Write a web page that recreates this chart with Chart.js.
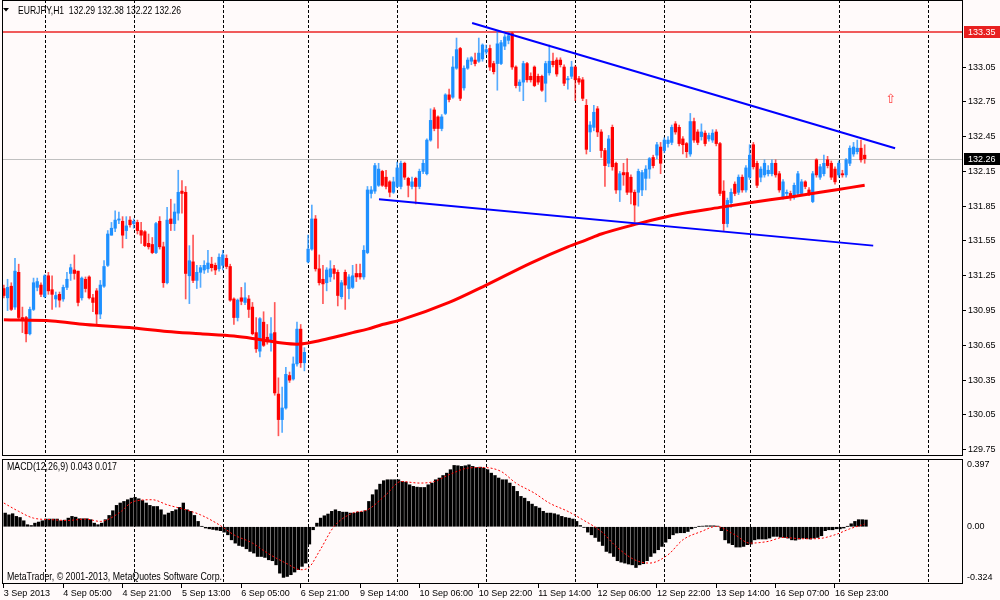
<!DOCTYPE html>
<html lang="en">
<head>
  <meta charset="UTF-8" />
  <title>EURJPY,H1</title>
  <script src="https://cdn.jsdelivr.net/npm/chart.js@4.4.1/dist/chart.umd.min.js"></script>
  <style>
    html, body { margin: 0; padding: 0; background: #fffafa; }
    .wrap { position: relative; width: 1000px; height: 600px; overflow: hidden; background: #fffafa; }
    #priceChart { position: absolute; left: 0; top: 0; }
    #macdChart { position: absolute; left: 0; top: 457px; }
  </style>
</head>
<body>
  <div class="wrap">
    <canvas id="priceChart" width="1000" height="457"></canvas>
    <canvas id="macdChart" width="1000" height="143"></canvas>
  </div>

  <script>
    const symbol = 'EURJPY,H1';
    const totalSlots = 259; // bars visible incl. the empty space on the right

    // hourly candles, 3 Sep 13:00 .. 17 Sep 07:00
    const opens = [
      131.14,131.06,131.16,130.98,131.28,130.89,130.89,130.75,130.96,131.15,
      131.17,131.07,131.25,131.13,131.05,131.09,131.05,131.15,131.27,131.30,
      131.29,131.06,131.22,131.24,131.06,131.12,130.92,131.16,131.34,131.60,
      131.66,131.73,131.72,131.64,131.73,131.70,131.71,131.64,131.63,131.53,
      131.52,131.45,131.72,131.50,131.19,131.74,131.70,131.79,131.98,131.97,
      131.25,131.37,131.21,131.28,131.30,131.31,131.35,131.34,131.31,131.34,
      131.40,131.33,131.05,130.89,131.06,131.02,131.05,130.98,130.76,130.60,
      130.85,130.72,130.68,130.76,130.23,130.01,130.11,130.39,130.36,130.49,
      130.79,130.50,131.37,131.48,131.74,131.31,131.22,131.19,131.24,131.31,
      131.28,131.07,131.28,131.14,131.15,131.27,131.27,131.24,131.45,131.96,
      131.98,132.03,132.15,132.10,132.06,131.97,132.02,132.02,132.22,132.09,
      132.02,132.09,132.02,132.15,132.13,132.42,132.68,132.62,132.52,132.65,
      132.81,132.79,133.04,133.21,132.87,133.04,133.10,133.11,133.10,133.12,
      133.18,133.21,133.08,133.08,133.08,133.23,133.28,133.34,133.05,132.89,
      132.92,133.08,132.97,133.05,132.97,132.97,132.91,133.00,133.10,133.11,
      133.11,133.05,132.94,132.97,133.05,132.95,132.94,132.72,132.49,132.53,
      132.69,132.49,132.33,132.22,132.53,132.22,131.99,132.14,132.14,132.10,
      131.97,131.97,131.99,132.09,132.17,132.27,132.29,132.36,132.33,132.39,
      132.40,132.56,132.53,132.43,132.39,132.30,132.58,132.49,132.45,132.48,
      132.43,132.42,132.49,132.39,131.98,131.70,131.88,132.04,131.97,132.10,
      131.99,132.10,132.38,132.22,132.10,132.12,132.13,132.13,132.22,132.13,
      131.93,131.96,131.96,131.93,131.96,131.96,132.06,131.99,131.89,132.25,
      132.10,132.13,132.25,132.22,132.17,132.12,132.13,132.12,132.22,132.30,
      132.32,132.35,132.29
    ];
    const highs = [
      131.17,131.22,131.19,131.40,131.35,130.98,130.90,130.98,131.23,131.23,
      131.19,131.26,131.28,131.25,131.11,131.11,131.17,131.28,131.35,131.43,
      131.29,131.24,131.24,131.25,131.09,131.14,131.21,131.38,131.64,131.71,
      131.81,131.80,131.76,131.76,131.76,131.74,131.73,131.71,131.64,131.61,
      131.58,131.71,131.76,131.54,131.84,131.91,131.87,132.16,132.07,132.02,
      131.51,131.60,131.34,131.34,131.38,131.47,131.41,131.36,131.44,131.47,
      131.43,131.35,131.06,131.05,131.15,131.19,131.08,131.02,130.89,130.89,
      130.94,130.83,130.89,131.02,130.37,130.29,130.46,130.42,130.55,130.85,
      130.83,130.63,131.60,131.86,131.77,131.43,131.34,131.32,131.38,131.34,
      131.30,131.21,131.30,131.26,131.34,131.35,131.35,131.51,132.02,132.02,
      132.22,132.22,132.16,132.16,132.07,132.10,132.23,132.24,132.23,132.10,
      132.10,132.10,132.17,132.25,132.43,132.69,132.70,132.63,132.64,132.82,
      132.86,133.14,133.30,133.22,133.06,133.13,133.14,133.17,133.30,133.25,
      133.24,133.24,133.10,133.36,133.28,133.33,133.35,133.35,133.06,132.94,
      133.10,133.09,133.00,133.06,132.99,132.98,133.10,133.24,133.17,133.13,
      133.13,133.07,132.97,133.10,133.06,132.97,132.96,132.77,132.58,132.72,
      132.71,132.51,132.35,132.46,132.55,132.23,132.15,132.22,132.26,132.12,
      131.99,132.17,132.16,132.20,132.27,132.29,132.40,132.40,132.44,132.45,
      132.55,132.58,132.55,132.45,132.40,132.65,132.61,132.51,132.56,132.50,
      132.48,132.51,132.51,132.40,132.07,131.92,132.00,132.06,132.12,132.12,
      132.20,132.38,132.40,132.24,132.19,132.25,132.20,132.25,132.25,132.15,
      132.08,131.99,131.98,132.05,132.15,132.08,132.07,132.01,132.15,132.26,
      132.21,132.29,132.28,132.24,132.19,132.24,132.16,132.26,132.37,132.40,
      132.42,132.42,132.38
    ];
    const lows = [
      131.06,130.95,130.95,130.96,130.88,130.76,130.68,130.74,130.95,131.12,
      131.07,131.06,131.09,130.96,130.98,130.98,131.03,131.13,131.21,131.22,
      130.99,131.04,131.11,131.05,130.94,130.83,130.88,131.15,131.33,131.60,
      131.63,131.70,131.49,131.57,131.67,131.66,131.61,131.53,131.50,131.48,
      131.44,131.44,131.48,131.15,131.18,131.64,131.64,131.73,131.79,131.05,
      131.01,131.19,131.14,131.15,131.27,131.28,131.29,131.26,131.29,131.30,
      131.31,131.03,130.83,130.86,131.00,131.00,130.89,130.74,130.59,130.55,
      130.64,130.66,130.60,130.22,129.87,129.90,130.10,130.33,130.35,130.47,
      130.46,130.43,131.36,131.47,131.29,131.17,131.01,131.12,131.20,131.22,
      130.99,131.05,130.96,131.05,131.14,131.20,131.22,131.22,131.44,131.92,
      131.96,132.02,132.02,132.00,131.93,131.96,132.01,132.00,132.08,131.93,
      132.00,131.87,132.00,132.13,132.12,132.41,132.50,132.35,132.50,132.64,
      132.75,132.78,133.03,132.76,132.85,133.03,133.07,133.06,133.09,133.10,
      133.16,133.02,132.99,132.85,133.07,133.20,133.25,133.03,132.87,132.84,
      132.76,132.92,132.92,132.88,132.90,132.84,132.75,132.98,133.05,132.97,
      133.05,132.89,132.86,132.95,132.76,132.90,132.76,132.30,132.32,132.50,
      132.45,132.27,132.02,132.19,132.16,131.96,131.89,132.03,131.95,131.87,
      131.71,131.85,131.94,131.99,132.09,132.18,132.26,132.13,132.31,132.36,
      132.38,132.47,132.37,132.30,132.27,132.28,132.40,132.38,132.42,132.37,
      132.41,132.40,132.37,131.94,131.64,131.67,131.84,131.94,131.95,131.97,
      131.97,132.08,132.17,132.01,132.06,132.10,132.11,132.11,132.10,131.97,
      131.91,131.92,131.90,131.91,131.94,131.94,132.00,131.94,131.88,132.10,
      132.08,132.11,132.18,132.08,132.04,132.10,132.10,132.10,132.20,132.28,
      132.30,132.23,132.22
    ];
    const closes = [
      131.08,131.15,130.96,131.29,130.89,130.87,130.75,130.96,131.19,131.20,
      131.09,131.25,131.12,131.09,131.08,131.04,131.15,131.22,131.32,131.27,
      131.02,131.23,131.14,131.06,131.02,130.92,131.17,131.33,131.61,131.66,
      131.73,131.74,131.60,131.68,131.69,131.72,131.64,131.60,131.51,131.50,
      131.45,131.70,131.50,131.19,131.73,131.70,131.80,131.97,131.96,131.27,
      131.38,131.21,131.28,131.32,131.34,131.36,131.32,131.30,131.41,131.43,
      131.33,131.04,130.89,131.04,131.03,131.06,130.96,130.75,130.62,130.88,
      130.65,130.68,130.75,130.24,130.01,130.11,130.40,130.35,130.49,130.79,
      130.50,130.59,131.48,131.74,131.31,131.19,131.18,131.30,131.31,131.27,
      131.08,131.19,131.17,131.24,131.25,131.24,131.24,131.47,131.99,131.99,
      132.20,132.17,132.03,132.02,131.97,132.06,132.18,132.22,132.10,132.03,
      132.06,132.02,132.15,132.22,132.42,132.59,132.52,132.52,132.62,132.81,
      132.77,133.05,133.20,132.78,133.04,133.11,133.13,133.08,133.17,133.24,
      133.20,133.05,133.01,133.25,133.26,133.31,133.32,133.05,132.89,132.92,
      133.08,132.94,132.94,132.89,132.92,132.85,133.08,133.10,133.07,132.99,
      133.07,132.91,132.95,133.05,132.94,132.92,132.78,132.34,132.55,132.66,
      132.49,132.33,132.20,132.43,132.19,131.99,132.13,132.12,131.97,131.97,
      131.86,132.15,132.14,132.17,132.26,132.20,132.38,132.22,132.42,132.42,
      132.53,132.49,132.39,132.38,132.32,132.58,132.42,132.40,132.49,132.39,
      132.46,132.48,132.39,131.96,131.70,131.90,131.97,131.96,132.10,131.99,
      132.18,132.29,132.19,132.03,132.17,132.22,132.16,132.22,132.12,131.99,
      132.06,131.97,131.93,132.03,132.13,132.06,132.02,131.96,132.13,132.12,
      132.19,132.22,132.20,132.10,132.06,132.22,132.12,132.25,132.35,132.36,
      132.35,132.25,132.26
    ];

    // moving average (red), read at some bars
    const maIdx = [0, 13, 22, 35, 44, 53, 62, 67, 71, 75, 79, 82, 85, 89, 94, 98, 102, 107, 120, 130, 142, 152, 157, 161, 171, 180, 193, 201, 212, 224, 232];
    const maVal = [130.87, 130.86, 130.83, 130.80, 130.77, 130.75, 130.73, 130.71, 130.69, 130.67, 130.66, 130.67, 130.69, 130.72, 130.76, 130.79, 130.83, 130.87, 131.02, 131.17, 131.36, 131.50, 131.56, 131.61, 131.70, 131.77, 131.84, 131.88, 131.93, 131.99, 132.03];

    // trend lines (bar index, price)
    const upperIdx = [126.2, 240.2];
    const upperVal = [133.43, 132.35];
    const lowerIdx = [101.1, 234.3];
    const lowerVal = [131.91, 131.51];

    const resistance = 133.35;
    const arrowIdx = 239;
    const arrowVal = 132.77;

    const priceTicks = [133.05, 132.75, 132.45, 132.15, 131.85, 131.55, 131.25, 130.95, 130.65, 130.35, 130.05, 129.75];
    const priceMin = 129.696;
    const priceMax = 133.628;

    // MACD(12,26,9)
    const macdHist = [
      0.087,0.076,0.083,0.066,0.059,0.038,0.013,0.008,0.023,0.030,
      0.038,0.049,0.049,0.049,0.049,0.038,0.042,0.055,0.066,0.061,
      0.051,0.051,0.051,0.045,0.023,0.013,0.023,0.045,0.072,0.102,
      0.136,0.151,0.161,0.172,0.182,0.187,0.178,0.167,0.151,0.136,
      0.129,0.129,0.108,0.076,0.087,0.098,0.108,0.123,0.151,0.108,
      0.098,0.072,0.034,0.002,-0.008,-0.013,-0.017,-0.021,-0.025,-0.034,
      -0.051,-0.083,-0.104,-0.119,-0.125,-0.140,-0.157,-0.167,-0.189,-0.189,
      -0.195,-0.210,-0.216,-0.242,-0.295,-0.322,-0.316,-0.305,-0.288,-0.273,
      -0.252,-0.231,-0.110,-0.019,0.023,0.055,0.070,0.081,0.098,0.108,
      0.098,0.093,0.093,0.087,0.087,0.093,0.093,0.102,0.161,0.204,
      0.235,0.271,0.293,0.299,0.299,0.299,0.299,0.288,0.284,0.267,
      0.257,0.252,0.250,0.250,0.267,0.278,0.299,0.310,0.326,0.341,
      0.363,0.390,0.388,0.384,0.388,0.394,0.384,0.377,0.379,0.373,
      0.363,0.341,0.326,0.310,
      0.299,0.299,0.278,0.257,0.225,0.193,0.182,0.161,0.144,0.129,
      0.119,0.098,0.087,0.087,0.083,0.076,0.066,0.059,0.055,0.049,
      0.034,0.008,-0.004,-0.034,-0.051,-0.068,-0.093,-0.119,-0.157,-0.167,
      -0.189,-0.216,-0.225,-0.231,-0.237,-0.242,-0.259,-0.242,-0.235,-0.216,
      -0.189,-0.167,-0.146,-0.125,-0.098,-0.076,-0.051,-0.040,-0.038,-0.038,
      -0.030,-0.013,-0.004,0.002,0.004,0.006,0.006,0.006,0.004,-0.025,
      -0.083,-0.104,-0.114,-0.129,-0.129,-0.125,-0.114,-0.110,-0.083,-0.078,
      -0.078,-0.078,-0.072,-0.061,-0.061,-0.066,-0.068,-0.072,-0.083,-0.085,
      -0.078,-0.072,-0.076,-0.078,-0.072,-0.068,-0.057,-0.025,-0.019,-0.019,
      -0.013,-0.013,-0.008,0.002,0.019,0.034,0.045,0.045,0.043
    ];
    const sigIdx = [0, 4, 8, 13, 17, 22, 26, 31, 35, 40, 44, 49, 53, 58, 62, 67, 71, 76, 80, 82, 85, 89, 94, 98, 103, 107, 112, 116, 120, 125, 129, 134, 138, 143, 147, 152, 156, 161, 165, 170, 174, 179, 183, 188, 192, 197, 201, 206, 210, 215, 219, 224, 228, 232];
    const sigVal = [0.151, 0.098, 0.055, 0.045, 0.040, 0.049, 0.034, 0.087, 0.161, 0.172, 0.140, 0.108, 0.076, 0.013, -0.051, -0.104, -0.167, -0.231, -0.273, -0.263, -0.157, 0.002, 0.087, 0.108, 0.204, 0.288, 0.278, 0.288, 0.331, 0.373, 0.377, 0.352, 0.278, 0.214, 0.151, 0.098, 0.045, -0.030, -0.125, -0.210, -0.231, -0.178, -0.083, -0.030, 0.002, -0.051, -0.104, -0.093, -0.068, -0.076, -0.076, -0.051, -0.013, 0.017];
    const macdTicks = [0.397, 0, -0.324];
    const macdTickText = ['0.397', '0.00', '-0.324'];
    const macdMin = -0.364;
    const macdMax = 0.431;

    // time axis
    const xTickLabels = ['3 Sep 2013', '4 Sep 05:00', '4 Sep 21:00', '5 Sep 13:00', '6 Sep 05:00', '6 Sep 21:00', '9 Sep 14:00', '10 Sep 06:00', '10 Sep 22:00', '11 Sep 14:00', '12 Sep 06:00', '12 Sep 22:00', '13 Sep 14:00', '16 Sep 07:00', '16 Sep 23:00'];
    const tickEvery = 16;
    const dayStarts = [11, 35, 59, 82, 106, 130, 154, 178, 201, 225, 249];

    const upColor = '#1e90ff';
    const downColor = '#ff0000';
    const textFont = '"Liberation Sans", Arial, sans-serif';
    const labels = Array.from({ length: totalSlots }, (_, i) => i);
    const isUp = i => closes[i] >= opens[i];
    const hasLabel = i => i % tickEvery === 0 && i / tickEvery < xTickLabels.length;
    const last = closes.length - 1;

    // hidden linear axis lined up with the bar slots (used by lines and objects)
    const slotAxis = { type: 'linear', display: false, offset: false, min: -0.5, max: totalSlots - 0.5 };

    // no extra room for half labels at the axis ends
    function noPad(s) {
      s.paddingTop = 0;
      s.paddingBottom = 0;
      s.paddingLeft = 0;
      s.paddingRight = 0;
    }

    // dashed day separators, shared by both panels
    function dayGrid(chart) {
      const { ctx, chartArea: a, scales } = chart;
      ctx.save();
      ctx.strokeStyle = '#000';
      ctx.lineWidth = 1;
      ctx.setLineDash([3, 2]);
      dayStarts.forEach(d => {
        const x = Math.round(scales.xl.getPixelForValue(d)) + 0.5;
        ctx.beginPath();
        ctx.moveTo(x, a.top);
        ctx.lineTo(x, a.bottom);
        ctx.stroke();
      });
      ctx.restore();
    }

    function frame(chart) {
      const { ctx, chartArea: a } = chart;
      ctx.save();
      ctx.strokeStyle = '#000';
      ctx.lineWidth = 1;
      ctx.strokeRect(Math.round(a.left) + 0.5, Math.round(a.top) + 0.5, Math.round(a.right - a.left) - 1, Math.round(a.bottom - a.top) - 1);
      ctx.restore();
    }

    function levelLine(chart, value, color, width) {
      const { ctx, chartArea: a, scales } = chart;
      const y = Math.round(scales.y.getPixelForValue(value)) + (width % 2 ? 0.5 : 0);
      ctx.save();
      ctx.strokeStyle = color;
      ctx.lineWidth = width;
      ctx.beginPath();
      ctx.moveTo(a.left, y);
      ctx.lineTo(a.right, y);
      ctx.stroke();
      ctx.restore();
    }

    function priceBox(chart, value, bg) {
      const { ctx, chartArea: a, scales } = chart;
      const y = scales.y.getPixelForValue(value);
      ctx.save();
      ctx.fillStyle = bg;
      ctx.fillRect(a.right + 1, Math.round(y) - 6, 36, 12);
      ctx.fillStyle = '#fff';
      ctx.font = '9px ' + textFont;
      ctx.textBaseline = 'middle';
      ctx.fillText(value.toFixed(2), a.right + 5, y + 0.5);
      ctx.restore();
    }

    const priceDecor = {
      id: 'priceDecor',
      beforeDatasetsDraw(chart) {
        dayGrid(chart);
        levelLine(chart, closes[last], '#c0c0c0', 1);
        levelLine(chart, resistance, '#f05a5a', 2);
      },
      afterDraw(chart) {
        const { ctx, scales } = chart;
        frame(chart);
        priceBox(chart, resistance, '#e82020');
        priceBox(chart, closes[last], '#000');

        ctx.save();
        // header
        ctx.fillStyle = '#000';
        ctx.beginPath();
        ctx.moveTo(3, 8);
        ctx.lineTo(9, 8);
        ctx.lineTo(6, 11.5);
        ctx.closePath();
        ctx.fill();
        ctx.font = '10.5px ' + textFont;
        ctx.textBaseline = 'alphabetic';
        const title = symbol + '  ' + [opens[last], highs[last], lows[last], closes[last]].map(v => v.toFixed(2)).join(' ');
        ctx.fillText(title, 18, 13.5, 163);

        // arrow object
        ctx.fillStyle = '#ff4040';
        ctx.font = '13px "DejaVu Sans", sans-serif';
        ctx.textAlign = 'center';
        ctx.textBaseline = 'middle';
        ctx.fillText('\u21E7', scales.xl.getPixelForValue(arrowIdx), scales.y.getPixelForValue(arrowVal));
        ctx.restore();
      }
    };

    new Chart(document.getElementById('priceChart'), {
      type: 'bar',
      data: {
        labels: labels,
        datasets: [
          {
            type: 'line', label: 'Upper', xAxisID: 'xl', order: 0,
            data: upperIdx.map((x, k) => ({ x: x, y: upperVal[k] })),
            borderColor: '#0000ff', borderWidth: 2, pointRadius: 0
          },
          {
            type: 'line', label: 'Lower', xAxisID: 'xl', order: 0,
            data: lowerIdx.map((x, k) => ({ x: x, y: lowerVal[k] })),
            borderColor: '#0000ff', borderWidth: 2, pointRadius: 0
          },
          {
            type: 'line', label: 'MA', xAxisID: 'xl', order: 1,
            data: maIdx.map((x, k) => ({ x: x, y: maVal[k] })),
            borderColor: '#ff0000', borderWidth: 3, pointRadius: 0,
            cubicInterpolationMode: 'monotone'
          },
          {
            label: 'Body', order: 2, grouped: false,
            data: opens.map((o, i) => [o, closes[i]]),
            backgroundColor: c => isUp(c.dataIndex) ? upColor : downColor,
            barThickness: 2.6, minBarLength: 1
          },
          {
            label: 'Wick', order: 3, grouped: false,
            data: lows.map((l, i) => [l, highs[i]]),
            backgroundColor: c => isUp(c.dataIndex) ? 'rgba(30,144,255,0.75)' : 'rgba(255,0,0,0.65)',
            barThickness: 1
          }
        ]
      },
      options: {
        responsive: false,
        animation: false,
        layout: { padding: { left: 2, right: 0, top: 0, bottom: 1 } },
        plugins: { legend: { display: false }, tooltip: { enabled: false } },
        scales: {
          x: { type: 'category', display: false, offset: true },
          xl: slotAxis,
          y: {
            position: 'right',
            min: priceMin,
            max: priceMax,
            afterFit: s => { s.width = 37; noPad(s); },
            afterBuildTicks: s => { s.ticks = priceTicks.map(v => ({ value: v })); },
            ticks: {
              autoSkip: false,
              callback: v => Number(v).toFixed(2),
              font: { family: textFont, size: 9 },
              color: '#000',
              padding: 2
            },
            grid: { drawOnChartArea: false, tickLength: 3, color: '#000' },
            border: { display: false }
          }
        }
      },
      plugins: [priceDecor]
    });

    const macdDecor = {
      id: 'macdDecor',
      beforeDatasetsDraw(chart) {
        dayGrid(chart);
      },
      afterDraw(chart) {
        const { ctx } = chart;
        frame(chart);
        ctx.save();
        ctx.fillStyle = '#000';
        ctx.font = '10.5px ' + textFont;
        const head = 'MACD(12,26,9) ' + macdHist[last].toFixed(3) + ' ' + sigVal[sigVal.length - 1].toFixed(3);
        ctx.fillText(head, 7, 13, 110);
        ctx.fillText('MetaTrader, \u00A9 2001-2013, MetaQuotes Software Corp.', 7, 123, 215);
        ctx.restore();
      }
    };

    new Chart(document.getElementById('macdChart'), {
      type: 'bar',
      data: {
        labels: labels,
        datasets: [
          {
            type: 'line', label: 'Signal', xAxisID: 'xl', order: 0,
            data: sigIdx.map((x, k) => ({ x: x, y: sigVal[k] })),
            borderColor: '#ff0000', borderWidth: 1, borderDash: [2, 2], pointRadius: 0,
            cubicInterpolationMode: 'monotone'
          },
          {
            label: 'MACD', order: 1,
            data: macdHist,
            backgroundColor: '#000',
            barThickness: 2.7
          }
        ]
      },
      options: {
        responsive: false,
        animation: false,
        layout: { padding: { left: 2, right: 0, top: 2, bottom: 0 } },
        plugins: { legend: { display: false }, tooltip: { enabled: false } },
        scales: {
          x: {
            type: 'category',
            offset: true,
            afterFit: s => { s.height = 16; noPad(s); },
            grid: {
              offset: false,
              drawOnChartArea: false,
              tickLength: 4,
              color: c => hasLabel(c.index) ? '#000' : 'rgba(0,0,0,0)'
            },
            border: { display: false },
            ticks: {
              autoSkip: false,
              maxRotation: 0,
              minRotation: 0,
              align: 'start',
              padding: 0,
              color: '#000',
              font: { family: textFont, size: 9 },
              callback: (v, i) => hasLabel(i) ? xTickLabels[i / tickEvery] : ''
            }
          },
          xl: slotAxis,
          y: {
            position: 'right',
            min: macdMin,
            max: macdMax,
            afterFit: s => { s.width = 37; noPad(s); },
            afterBuildTicks: s => { s.ticks = macdTicks.map(v => ({ value: v })); },
            ticks: {
              autoSkip: false,
              callback: (v, i) => macdTickText[i],
              font: { family: textFont, size: 9 },
              color: '#000',
              padding: 4
            },
            grid: { drawOnChartArea: false, drawTicks: false },
            border: { display: false }
          }
        }
      },
      plugins: [macdDecor]
    });
  </script>
</body>
</html>
